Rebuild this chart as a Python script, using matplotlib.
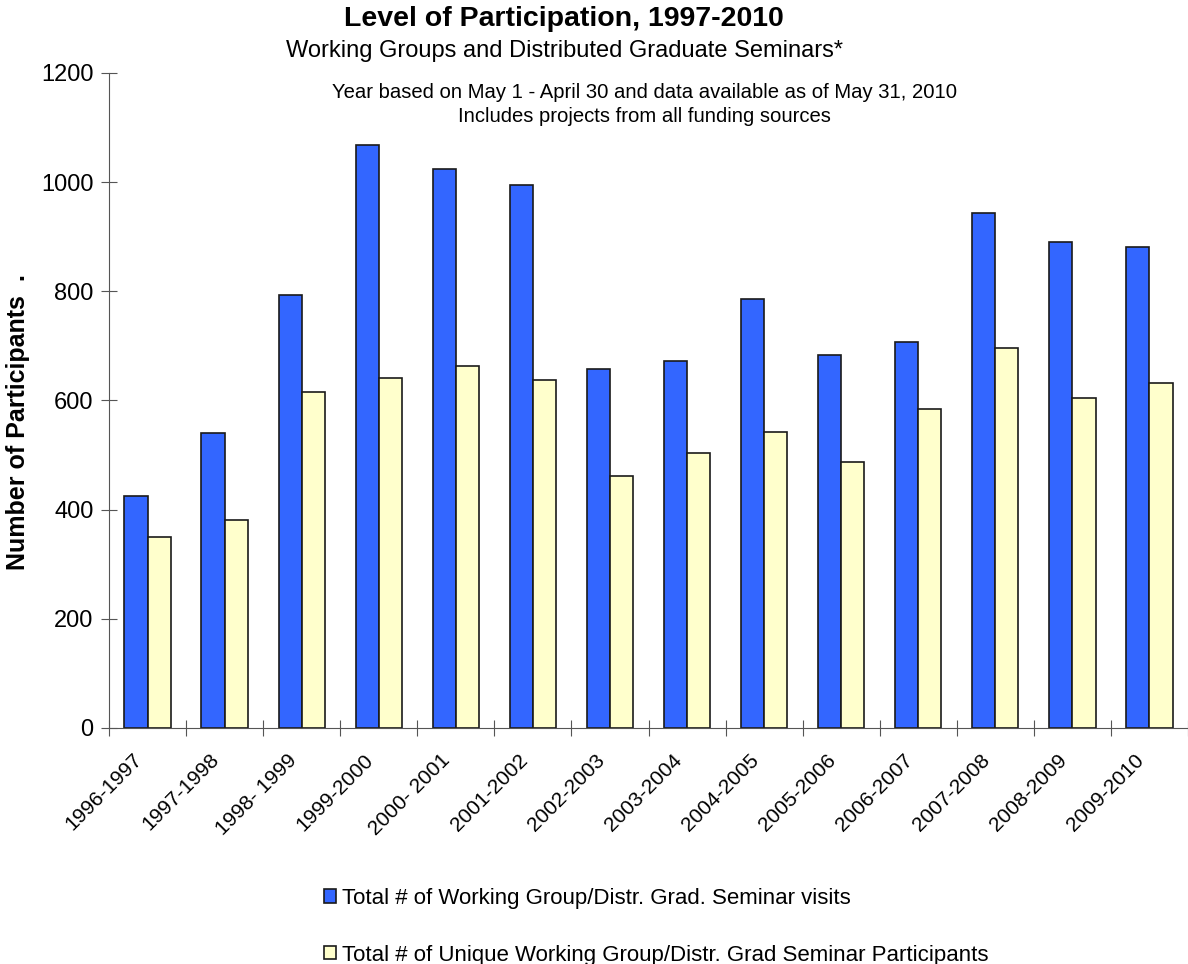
import matplotlib
matplotlib.use("Agg")
import matplotlib.pyplot as plt
from matplotlib.transforms import ScaledTranslation
import numpy as np

plt.rcParams['font.family'] = ['Liberation Sans', 'DejaVu Sans']

annees = ["1996-1997", "1997-1998", "1998- 1999", "1999-2000", "2000- 2001",
          "2001-2002", "2002-2003", "2003-2004", "2004-2005", "2005-2006",
          "2006-2007", "2007-2008", "2008-2009", "2009-2010"]
visites = [425, 540, 793, 1068, 1025, 994, 657, 672, 786, 684, 707, 944, 891, 882]
uniques = [350, 381, 616, 641, 663, 638, 462, 503, 542, 487, 585, 696, 604, 632]

nom_visites = "Total # of Working Group/Distr. Grad. Seminar visits"
nom_uniques = "Total # of Unique Working Group/Distr. Grad Seminar Participants"

fig = plt.figure(figsize=(11.88, 9.64), dpi=100)
ax = fig.add_axes([109/1188, 1-728/964, 1-109/1188, (728-73)/964])

x = np.arange(len(annees))
w = 0.3
ax.bar(x - w/2, visites, w, color="#3366ff", edgecolor="#1a1a1a", linewidth=1.2, label=nom_visites)
ax.bar(x + w/2, uniques, w, color="#ffffcc", edgecolor="#1a1a1a", linewidth=1.2, label=nom_uniques)

ax.set_xlim(-0.5, 13.44)
ax.set_ylim(0, 1200)
ax.set_yticks(range(0, 1201, 200))
ax.tick_params(axis='y', labelsize=17, direction='inout', length=12, color="#555555", pad=5)

# ticks between categories, labels at the centres
ax.set_xticks(np.arange(-0.5, 14, 1))
ax.set_xticklabels([])
ax.set_xticks(x, minor=True)
ax.set_xticklabels(annees, minor=True, rotation=45, ha='right', rotation_mode='anchor', fontsize=15)
ax.tick_params(axis='x', which='major', direction='inout', length=12, color="#555555")
ax.tick_params(axis='x', which='minor', length=0, pad=16)
decalage = ScaledTranslation(-0.15, 0, fig.dpi_scale_trans)
for lbl in ax.get_xticklabels(minor=True):
    lbl.set_transform(lbl.get_transform() + decalage)

for s in ['top', 'right']:
    ax.spines[s].set_visible(False)
for s in ['left', 'bottom']:
    ax.spines[s].set_color("#555555")

fig.text(18/1188, 1-422/964, "Number of Participants  .", rotation=90, ha='center', va='center',
         fontsize=18, fontweight='bold')

fig.text(564/1188, 1-19/964, "Level of Participation, 1997-2010", ha='center', va='center',
         fontsize=20.5, fontweight='bold')
fig.text(564/1188, 1-51/964, "Working Groups and Distributed Graduate Seminars*", ha='center', va='center',
         fontsize=17)
fig.text(644/1188, 1-93/964, "Year based on May 1 - April 30 and data available as of May 31, 2010",
         ha='center', va='center', fontsize=14.6)
fig.text(644/1188, 1-117/964, "Includes projects from all funding sources", ha='center', va='center',
         fontsize=14.6)

fig.legend(loc='upper left', bbox_to_anchor=(304/1188, 1-868/964), frameon=False, fontsize=16,
           handlelength=0.55, handleheight=0.55, handletextpad=0.25, labelspacing=1.6)

fig.savefig("out.png", dpi=100)
